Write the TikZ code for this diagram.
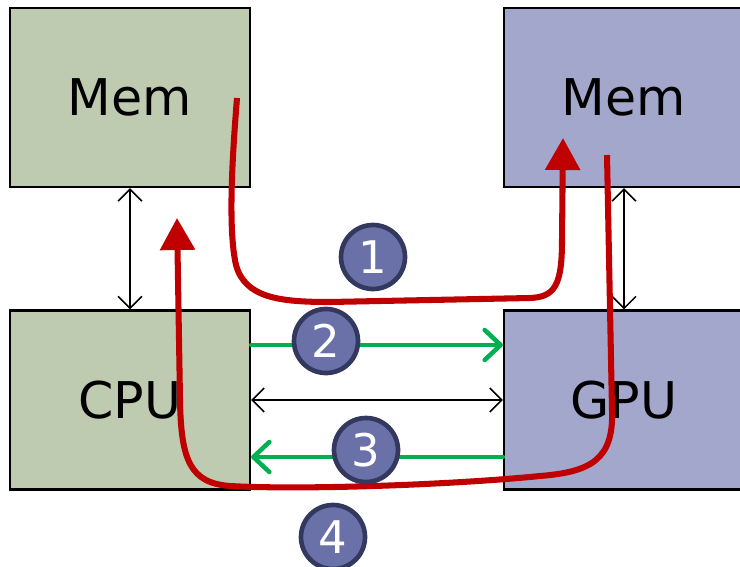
\documentclass[tikz,border=0pt]{standalone}
\usepackage{fontspec}
\setmainfont{DejaVu Sans}
\usetikzlibrary{arrows.meta,positioning}

\definecolor{hostfill}{RGB}{191,203,176}
\definecolor{devfill}{RGB}{163,167,203}
\definecolor{copyred}{RGB}{192,0,0}
\definecolor{xfergreen}{RGB}{0,176,80}
\definecolor{stepfill}{RGB}{106,112,168}
\definecolor{stepline}{RGB}{51,56,94}

\begin{document}
\begin{tikzpicture}[
    x=0.025cm, y=-0.025cm,
    every node/.style={font=\fontsize{36}{40}\selectfont},
    hostbox/.style={
        draw,
        line width=1.5pt,
        fill=hostfill,
        minimum width=6cm,
        minimum height=4.475cm
    },
    devbox/.style={
        hostbox,
        fill=devfill
    },
    bus/.style={<->, line width=1.1pt,
        >={Straight Barb[length=3mm,width=6mm]}},
    xfer/.style={->, xfergreen, line width=3.2pt, line cap=round,
        >={Straight Barb[length=4mm,width=7.5mm,round]}},
    copy/.style={->, copyred, line width=4.3pt,
        >={Triangle[length=8mm,width=8.5mm]}},
    stepmark/.style={
        circle,
        fill=stepfill,
        draw=stepline,
        line width=3.3pt,
        minimum size=1.6cm,
        inner sep=0pt,
        text=white,
        font=\fontsize{32}{34}\selectfont
    }
]
\useasboundingbox (0,0) rectangle (740,566);

% Boxes
\node[hostbox] (memL) at (130,97.5) {Mem};
\node[hostbox] (cpu)  at (130,400) {CPU};
\node[devbox]  (memR) at (624,97.5) {Mem};
\node[devbox]  (gpu)  at (624,400) {GPU};

% Buses
\draw[bus] (memL) -- (cpu);
\draw[bus] (memR) -- (gpu);
\draw[bus] (cpu) -- (gpu);

% Transfers
\draw[xfer] ([yshift=1.375cm]cpu.east) -- ([yshift=1.375cm]gpu.west);
\draw[xfer] ([yshift=-1.425cm]gpu.west) -- ([yshift=-1.425cm]cpu.east);

% Copies
\coordinate (srcL) at (237,98);
\coordinate (dstR) at (563,138);
\coordinate (srcR) at (607,155);
\coordinate (dstL) at (177,218);

\draw[copy] (srcL) .. controls (232,160) and (228,230) .. (236,265)
    .. controls (245,298) and (280,302) .. (330,302) -- (530,298)
    .. controls (555,297) and (562,285) .. (562,240) -- (dstR);
\draw[copy] (srcR) -- (612,410)
    .. controls (614,460) and (590,472) .. (540,476)
    .. controls (450,485) and (300,490) .. (230,486)
    .. controls (190,483) and (181,460) .. (180,400) -- (dstL);

% Steps
\node[stepmark] (s1) at (373,257) {1};
\node[stepmark] (s2) at (326,341) {2};
\node[stepmark] (s3) at (366,450) {3};
\node[stepmark] (s4) at (333,537) {4};

\end{tikzpicture}
\end{document}
